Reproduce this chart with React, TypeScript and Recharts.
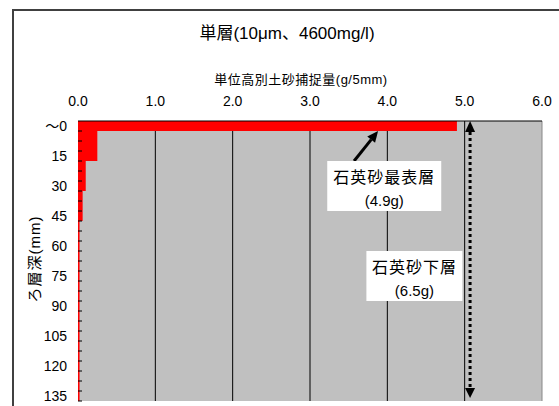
import { BarChart, Bar, XAxis, YAxis, CartesianGrid, ReferenceLine, ReferenceDot } from 'recharts';

const FONT = '"Liberation Sans Narrow", "Liberation Sans", "Noto Sans CJK JP", sans-serif';

// depth bins (5 mm each), top to bottom
const depthLabels = [
  '～0', '5', '10', '15', '20', '25', '30', '35', '40', '45', '50', '55', '60', '65',
  '70', '75', '80', '85', '90', '95', '100', '105', '110', '115', '120', '125', '130', '135',
];
// captured sediment per bin (g/5mm)
const captureValues = [
  4.9, 0.25, 0.25, 0.25, 0.1, 0.1, 0.1, 0.06, 0.06, 0.06, 0.02, 0.02, 0.02, 0.02,
  0.02, 0.02, 0.02, 0.02, 0.02, 0.02, 0.02, 0.02, 0.02, 0.02, 0.02, 0.02, 0.02, 0.02,
];
const xTicks = [0, 1, 2, 3, 4, 5, 6];
const gridValues = [1, 2, 3, 4, 5];

// annotations
const surfaceArrow = [{ x: 3.57, y: '20' }, { x: 3.88, y: '5' }];
const surfaceNote = { x: 3.96, y: '30', title: '石英砂最表層', amount: '(4.9g)' };
const lowerLayerX = 5.07;
const lowerNote = { x: 4.35, y: '75', title: '石英砂下層', amount: '(6.5g)' };

const data = depthLabels.map((depth, i) => ({ depth, value: captureValues[i] }));

function DepthTick({ x, y, payload, index }: any) {
  const last = index === depthLabels.length - 1;
  return (
    <g>
      {index > 0 && <line x1={x} x2={x + 4} y1={y - 5} y2={y - 5} stroke="#000" />}
      {last && <line x1={x} x2={x + 4} y1={y + 5} y2={y + 5} stroke="#000" />}
      {index % 3 === 0 && (
        <text x={x - 11} y={y} dy="0.35em" textAnchor="end" fontSize={14} fontFamily={FONT} fill="#000">
          {payload.value}
        </text>
      )}
    </g>
  );
}

function PointerArrow(p: any) {
  const x1 = p.x1, y1 = p.y1 - 5, x2 = p.x2, y2 = p.y2 - 5;
  const ang = Math.atan2(y2 - y1, x2 - x1);
  const bx = x2 - 11 * Math.cos(ang), by = y2 - 11 * Math.sin(ang);
  const px = -Math.sin(ang) * 5, py = Math.cos(ang) * 5;
  return (
    <g>
      <line x1={x1} y1={y1} x2={bx} y2={by} stroke="#000" strokeWidth={3} />
      <polygon points={`${x2},${y2} ${bx + px},${by + py} ${bx - px},${by - py}`} fill="#000" />
    </g>
  );
}

function LayerArrow(p: any) {
  const x = p.x1;
  const top = Math.min(p.y1, p.y2);
  const bottom = Math.max(p.y1, p.y2);
  return (
    <g>
      <line x1={x} x2={x} y1={top + 11} y2={bottom - 12} stroke="#000" strokeWidth={3} strokeDasharray="3 3" />
      <polygon points={`${x},${top} ${x - 5},${top + 11} ${x + 5},${top + 11}`} fill="#000" />
      <polygon points={`${x},${bottom - 3} ${x - 5},${bottom - 13} ${x + 5},${bottom - 13}`} fill="#000" />
    </g>
  );
}

function noteShape(title: string, amount: string, width: number) {
  return (p: any) => (
    <g>
      <rect x={p.cx - width / 2} y={p.cy - 25} width={width} height={50} fill="#fff" />
      <text x={p.cx} y={p.cy - 9} dy="0.35em" textAnchor="middle" fontSize={16} fontFamily={FONT} letterSpacing={1} fill="#000">
        {title}
      </text>
      <text x={p.cx} y={p.cy + 15} dy="0.35em" textAnchor="middle" fontSize={15} fontFamily={FONT} fill="#000">
        {amount}
      </text>
    </g>
  );
}

export default function App() {
  return (
    <div style={{ position: 'absolute', left: 0, top: 0, width: 559, height: 406, overflow: 'hidden', background: '#fff', fontFamily: FONT }}>
      <div style={{ position: 'absolute', left: 12, top: 9, width: 700, height: 600, borderLeft: '2px solid #404040', borderTop: '2px solid #404040' }} />
      <div style={{ position: 'absolute', left: 137, top: 24, width: 300, lineHeight: '20px', fontSize: 17, textAlign: 'center' }}>
        単層(10μm、4600mg/l)
      </div>
      <div style={{ position: 'absolute', left: 151, top: 70, width: 300, lineHeight: '20px', fontSize: 13, textAlign: 'center', letterSpacing: 0.5 }}>
        単位高別土砂捕捉量(g/5mm)
      </div>
      <div style={{ position: 'absolute', left: -25, top: 249, width: 120, lineHeight: '20px', fontSize: 15, textAlign: 'center', transform: 'rotate(-90deg)', letterSpacing: 1 }}>
        ろ層深(mm)
      </div>
      <div style={{ position: 'absolute', left: 0, top: 0 }}>
        <BarChart
          width={559}
          height={406}
          data={data}
          layout="vertical"
          barCategoryGap={0}
          margin={{ top: 88, right: 17, bottom: 5, left: 0 }}
        >
          <CartesianGrid horizontal={false} verticalValues={gridValues} stroke="#000" fill="#c0c0c0" />
          <XAxis
            type="number"
            orientation="top"
            domain={[0, 6]}
            ticks={xTicks}
            tickFormatter={(v: number) => v.toFixed(1)}
            height={33}
            tickLine={false}
            tickSize={0}
            tickMargin={15}
            axisLine={{ stroke: '#000' }}
            tick={{ fill: '#000', fontSize: 14, fontFamily: FONT }}
          />
          <XAxis
            xAxisId="frame"
            type="number"
            orientation="bottom"
            domain={[0, 6]}
            height={0}
            tick={false}
            tickLine={false}
            axisLine={{ stroke: '#888' }}
          />
          <YAxis
            type="category"
            dataKey="depth"
            width={78}
            interval={0}
            tickLine={false}
            tickSize={0}
            tickMargin={0}
            axisLine={false}
            tick={<DepthTick />}
          />
          <Bar dataKey="value" fill="#ff0000" isAnimationActive={false} />
          <ReferenceLine x={6} stroke="#888" />
          <ReferenceLine segment={surfaceArrow} shape={PointerArrow} />
          <ReferenceLine x={lowerLayerX} shape={LayerArrow} />
          <ReferenceDot x={surfaceNote.x} y={surfaceNote.y} shape={noteShape(surfaceNote.title, surfaceNote.amount, 114)} />
          <ReferenceDot x={lowerNote.x} y={lowerNote.y} shape={noteShape(lowerNote.title, lowerNote.amount, 96)} />
        </BarChart>
      </div>
    </div>
  );
}
